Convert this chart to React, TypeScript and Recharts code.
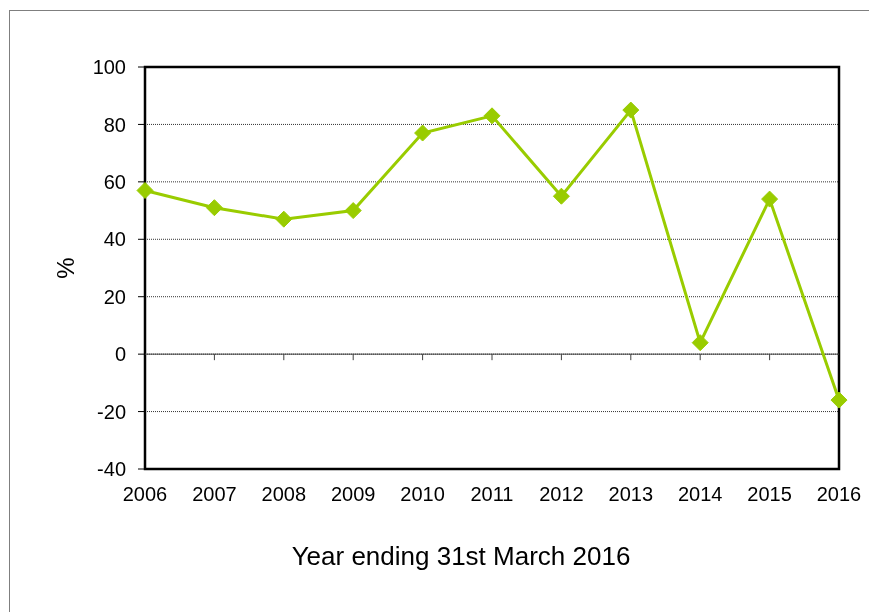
import React from "react";
import {
  LineChart,
  Line,
  XAxis,
  YAxis,
  CartesianGrid,
  ReferenceLine,
  ReferenceArea,
  Label,
} from "recharts";

const years = [2006, 2007, 2008, 2009, 2010, 2011, 2012, 2013, 2014, 2015, 2016];
const values = [57, 51, 47, 50, 77, 83, 55, 85, 4, 54, -16];
const yTicks = [-40, -20, 0, 20, 40, 60, 80, 100];

const data = years.map((y, i) => ({ year: y, value: values[i] }));
const innerYears = years.slice(1, -1);

const GREEN = "#99CC00";
const FONT = "'Liberation Sans', Arial, sans-serif";

const Diamond = (props: any) => {
  const { cx, cy, index } = props;
  if (cx == null || cy == null) return <g key={`d-${index}`} />;
  const r = 8;
  return (
    <path
      key={`d-${index}`}
      d={`M${cx},${cy - r} L${cx + r},${cy} L${cx},${cy + r} L${cx - r},${cy} Z`}
      fill={GREEN}
      stroke={GREEN}
      strokeWidth={1}
    />
  );
};

export default function App() {
  return (
    <div
      style={{
        position: "relative",
        width: 853,
        height: 596,
        fontFamily: FONT,
      }}
    >
      <div
        style={{
          position: "fixed",
          left: 9,
          top: 10,
          width: 1200,
          height: 1200,
          border: "1px solid #7f7f7f",
          boxSizing: "border-box",
          pointerEvents: "none",
        }}
      />
      <div style={{ position: "absolute", left: 0, top: 0 }}>
        <LineChart
          width={853}
          height={596}
          data={data}
          margin={{ top: 59, right: 22, bottom: 95, left: 0 }}
          style={{ fontFamily: FONT }}
        >
          <CartesianGrid
            vertical={false}
            stroke="#333333"
            strokeDasharray="1 1"
            strokeWidth={1}
          />
          <XAxis
            dataKey="year"
            type="number"
            domain={[2006, 2016]}
            ticks={years}
            allowDecimals={false}
            axisLine={false}
            tickLine={false}
            tickSize={6}
            tickMargin={12}
            height={40}
            tick={{ fontSize: 20, fill: "#000000", fontFamily: FONT }}
            interval={0}
          >
            <Label
              value="Year ending 31st March 2016"
              position="bottom"
              offset={38}
              dx={-31}
              style={{ fontSize: 26, fill: "#000000", fontFamily: FONT }}
            />
          </XAxis>
          <YAxis
            type="number"
            domain={[-40, 100]}
            ticks={yTicks}
            interval={0}
            width={137}
            axisLine={false}
            tickLine={{ stroke: "#000000", strokeWidth: 1 }}
            tickSize={7}
            tickMargin={12}
            tick={{ fontSize: 20, fill: "#000000", fontFamily: FONT }}
          >
            <Label
              value="%"
              angle={-90}
              position="center"
              dx={-11}
              style={{ fontSize: 24, fill: "#000000", fontFamily: FONT }}
            />
          </YAxis>
          <ReferenceLine y={0} stroke="#404040" strokeWidth={1} />
          {innerYears.map((yr) => (
            <ReferenceLine
              key={`tk-${yr}`}
              segment={[
                { x: yr, y: 0 },
                { x: yr, y: -2.1 },
              ]}
              stroke="#404040"
              strokeWidth={1}
            />
          ))}
          <ReferenceArea
            x1={2006}
            x2={2016}
            y1={-40}
            y2={100}
            fill="none"
            fillOpacity={0}
            stroke="#000000"
            strokeWidth={2.5}
            ifOverflow="visible"
          />
          <Line
            type="linear"
            dataKey="value"
            stroke={GREEN}
            strokeWidth={3}
            dot={Diamond}
            activeDot={false}
            isAnimationActive={false}
          />
        </LineChart>
      </div>
    </div>
  );
}
